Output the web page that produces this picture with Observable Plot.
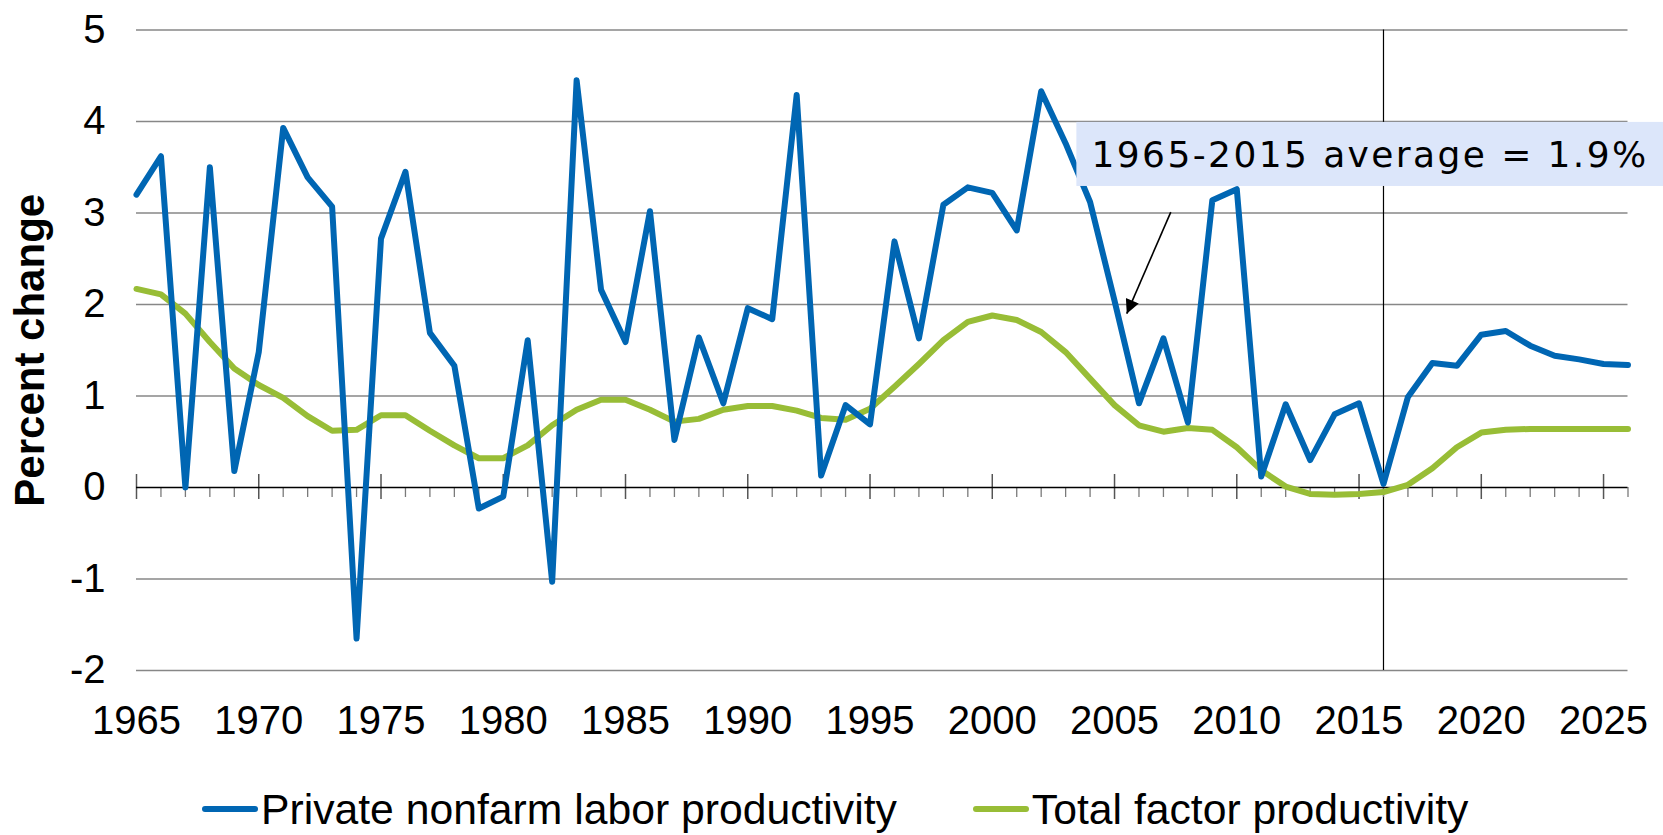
<!DOCTYPE html>
<html>
<head>
<meta charset="utf-8">
<script src="https://cdn.jsdelivr.net/npm/d3@7"></script>
<script src="https://cdn.jsdelivr.net/npm/@observablehq/plot@0.6"></script>
<style>
  html, body { margin: 0; padding: 0; background: #fff; }
  #wrap { position: relative; width: 1663px; height: 835px; overflow: hidden; }
  #legend { position: absolute; left: 202px; top: 788px; height: 42px; line-height: 1; display: flex; align-items: center;
    font-family: "Liberation Sans", Arial, sans-serif; font-size: 42.7px; color: #000; white-space: nowrap; }
  .item { display: flex; align-items: center; }
  .sw { width: 56px; height: 6px; border-radius: 3px; margin-right: 3px; }
</style>
</head>
<body>
<div id="wrap">
  <div id="chart"></div>
  <div id="legend"></div>
</div>
<script>
const years = d3.range(1965, 2027);
const laborProductivity = [
  3.20, 3.62, 0.00, 3.50, 0.18, 1.48, 3.93, 3.39, 3.07, -1.65,
  2.72, 3.45, 1.69, 1.33, -0.23, -0.10, 1.61, -1.03, 4.45, 2.16,
  1.59, 3.02, 0.52, 1.64, 0.92, 1.96, 1.84, 4.29, 0.13, 0.90,
  0.69, 2.69, 1.63, 3.09, 3.28, 3.22, 2.81, 4.33, 3.76, 3.12,
  2.04, 0.92, 1.63, 0.71, 3.14, 3.26, 0.12, 0.91, 0.30, 0.80,
  0.92, 0.04, 0.99, 1.36, 1.33, 1.67, 1.71, 1.55, 1.44, 1.40,
  1.35, 1.34
];
const totalFactorProductivity = [
  2.17, 2.11, 1.90, 1.59, 1.30, 1.12, 0.98, 0.78, 0.62, 0.63,
  0.79, 0.79, 0.62, 0.46, 0.32, 0.32, 0.46, 0.68, 0.85, 0.96,
  0.96, 0.85, 0.72, 0.75, 0.85, 0.89, 0.89, 0.84, 0.76, 0.74,
  0.86, 1.10, 1.35, 1.61, 1.81, 1.88, 1.83, 1.70, 1.48, 1.19,
  0.90, 0.68, 0.61, 0.65, 0.63, 0.44, 0.19, 0.01, -0.07, -0.08,
  -0.07, -0.05, 0.03, 0.21, 0.44, 0.60, 0.63, 0.64, 0.64, 0.64,
  0.64, 0.64
];
const seriesNames = ["Private nonfarm labor productivity", "Total factor productivity"];
const seriesColors = ["#0066b3", "#98bd36"];
const yTicks = [-2, -1, 0, 1, 2, 3, 4, 5];
const xLabels = [1965, 1970, 1975, 1980, 1985, 1990, 1995, 2000, 2005, 2010, 2015, 2020, 2025];
const projectionStart = [2016];
const annotationText = ["1965-2015 average = 1.9%"];
const annotationBox = [{x1: 2003.46, x2: 2027.6, y1: 3.29, y2: 3.99}];
const annotationLabel = [{x: 2015.45, y: 3.63}];
const arrowLink = [{x1: 2007.3, y1: 3.01, x2: 2005.5, y2: 1.9}];

const rows = years.map((yr, i) => ({year: yr, labor: laborProductivity[i], tfp: totalFactorProductivity[i]}));
const majorYears = years.filter(y => y % 5 === 0);
const minorYears = years.filter(y => y % 5 !== 0);

const chart = Plot.plot({
  width: 1663,
  height: 760,
  marginLeft: 136,
  marginRight: 35.5,
  marginTop: 29.5,
  marginBottom: 90,
  style: {fontFamily: "'Liberation Sans', Arial, sans-serif", fontSize: "40px", color: "#000", background: "#fff"},
  x: {domain: [1965, 2026]},
  y: {domain: [-2, 5]},
  marks: [
    Plot.ruleY(yTicks.filter(v => v !== 0), {stroke: "#878787", strokeWidth: 1.3}),
    Plot.ruleX(projectionStart, {stroke: "#000", strokeWidth: 1.2}),
    Plot.ruleX(minorYears, {x: d => d, y1: 0, y2: 0, insetTop: 0, insetBottom: -10, stroke: "#7a7a7a", strokeWidth: 1.3}),
    Plot.ruleX(majorYears, {x: d => d, y1: 0, y2: 0, insetTop: -13, insetBottom: -12, stroke: "#555", strokeWidth: 1.5}),
    Plot.ruleY([0], {stroke: "#000", strokeWidth: 1.6}),
    Plot.line(rows, {x: "year", y: "tfp", stroke: seriesColors[1], strokeWidth: 6, strokeLinejoin: "round", strokeLinecap: "round"}),
    Plot.line(rows, {x: "year", y: "labor", stroke: seriesColors[0], strokeWidth: 6, strokeLinejoin: "round", strokeLinecap: "round"}),
    Plot.rect(annotationBox, {x1: "x1", x2: "x2", y1: "y1", y2: "y2", fill: "#dce6fa"}),
    Plot.text(annotationLabel, {x: "x", y: "y", text: () => annotationText[0], fontFamily: "'DejaVu Sans', Verdana, sans-serif", fontSize: 36, fill: "#000", textAnchor: "middle", lineAnchor: "middle"}),
    Plot.link(arrowLink, {x1: "x1", y1: "y1", x2: "x2", y2: "y2", stroke: "#000", strokeWidth: 1.6}),
    Plot.axisY({ticks: yTicks, tickSize: 0, tickPadding: 31, tickFormat: d => String(d)}),
    Plot.axisX({ticks: xLabels, tickSize: 0, tickPadding: 35, tickFormat: d => String(d)}),
    Plot.text(["Percent change"], {frameAnchor: "left", dx: -106, rotate: -90, fontWeight: "bold", fontSize: 42, fill: "#000", textAnchor: "middle"})
  ]
});

const svg = d3.select(chart);
// letter spacing for the annotation text
svg.selectAll('g[aria-label="text"] text').filter(function () { return this.textContent === annotationText[0]; })
  .style("letter-spacing", "2.4px");
// filled arrowhead on the annotation pointer
const defs = svg.insert("defs", ":first-child");
defs.append("marker")
  .attr("id", "arrowhead")
  .attr("viewBox", "0 -5 10 10")
  .attr("refX", 10).attr("refY", 0)
  .attr("markerWidth", 15).attr("markerHeight", 14)
  .attr("markerUnits", "userSpaceOnUse")
  .attr("orient", "auto")
  .append("path").attr("d", "M0,-5L10,0L0,5Z").attr("fill", "#000");
svg.selectAll('g[aria-label="link"] path').attr("marker-end", "url(#arrowhead)");

document.getElementById("chart").appendChild(chart);

const legend = d3.select("#legend");
seriesNames.forEach((name, i) => {
  const item = legend.append("div").attr("class", "item").style("margin-right", i === 0 ? "76px" : "0px");
  item.append("div").attr("class", "sw").style("background", seriesColors[i]);
  item.append("span").text(name);
});
</script>
</body>
</html>
